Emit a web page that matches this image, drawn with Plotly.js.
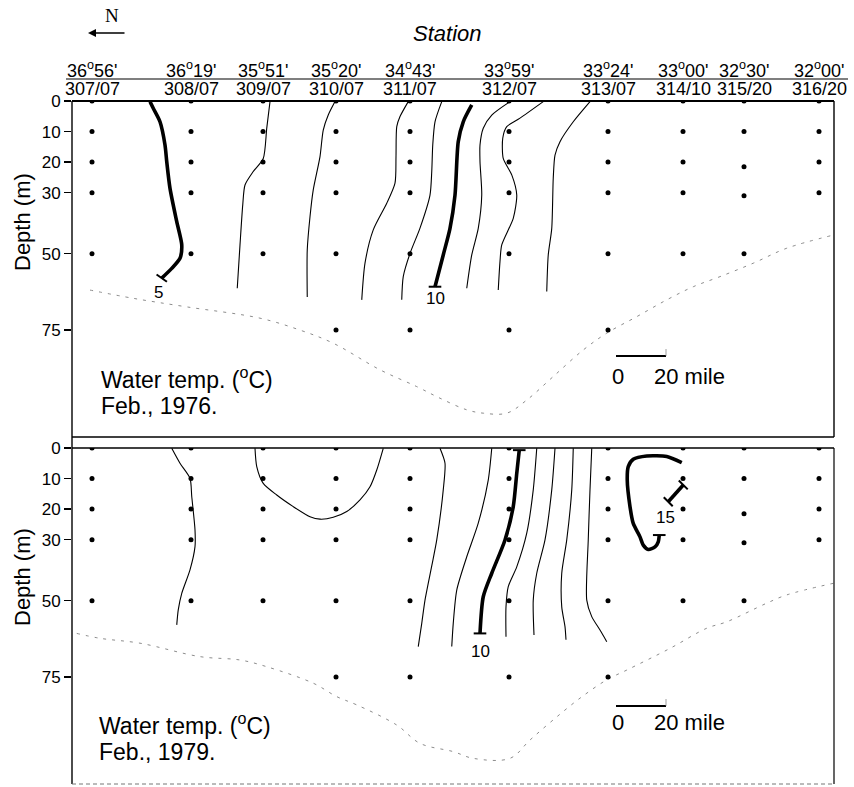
<!DOCTYPE html>
<html><head><meta charset="utf-8">
<script src="https://cdn.plot.ly/plotly-3.0.1.min.js"></script>
<style>html,body{margin:0;padding:0;background:#fff}#chart{width:854px;height:787px}</style>
</head><body><div id="chart"></div>
<script>
// ---------------- DATA ----------------
const stations = ['307/07','308/07','309/07','310/07','311/07','312/07','313/07','314/10','315/20','316/20'];
const latDeg = ['36','36','35','35','34','33','33','33','32','32'];
const latMin = ['56','19','51','20','43','59','24','00','30','00'];
// distance along section (mile) from the left edge
const stationDist = [8.0, 47.6, 76.4, 105.6, 135.2, 174.8, 214.4, 244.4, 268.8, 298.8];
const depthTicks = [0, 10, 20, 30, 50, 75];

// sampling depths (m) per station
const samples1976 = [[0,10,20,30,50],[0,10,20,30,50],[0,10,20,30,50],[0,10,20,30,50,75],[0,10,20,30,50,75],
                     [0,10,20,30,50,75],[0,10,20,30,50,75],[0,10,20,30,50],[0,10,21.5,31,50],[0,10,20,30]];
const samples1979 = [[0,10,20,30,50],[0,10,20,30,50],[0,10,20,30,50],[0,10,20,30,50,75],[0,10,20,30,50,75],
                     [0,10,20,30,50,75],[0,10,20,30,50,75],[0,10,20,30,50],[0,10,21.5,31,50],[0,10,20,30]];

// isotherms Feb 1976: [distance (mile), depth (m)]
const iso1976_5  = [[31.2,0.2],[32.5,2.4],[35.2,6.8],[37.2,14.4],[37.9,19.9],[39.2,28.6],[41.9,39.5],[43.9,47.1],[43.2,51.5],[39.9,54.8],[35.9,58.0]];
const iso1976_6  = [[79.2,0.2],[77.9,8.9],[76.5,18.8],[72.5,23.1],[69.2,27.5],[68.3,34.0],[67.2,47.1],[66.1,61.3]];
const iso1976_7  = [[105.2,0.2],[102.5,4.6],[100.5,9.5],[99.2,18.2],[96.5,29.1],[95.2,37.9],[94.1,48.8],[94.1,64.2]];
const iso1976_8  = [[134.5,0.2],[131.2,5.1],[129.9,8.4],[129.6,18.2],[129.2,26.9],[125.9,33.5],[120.5,42.2],[117.2,53.1],[115.9,65.1]];
const iso1976_9  = [[147.9,0.2],[145.2,6.8],[144.3,14.4],[143.9,23.1],[143.2,30.8],[139.2,41.6],[135.2,49.9],[132.5,57.5],[131.9,65.1]];
const iso1976_10 = [[159.9,1.3],[156.5,6.8],[154.5,13.3],[153.2,30.8],[151.2,41.7],[148.5,50.4],[145.2,60.8]];
const iso1976_11 = [[175.2,0.2],[167.9,4.6],[164.5,8.9],[163.2,14.4],[163.2,19.9],[163.9,30.8],[162.5,41.7],[159.9,50.4],[157.9,61.3]];
const iso1976_12 = [[188.5,0.2],[179.2,5.6],[173.9,8.4],[172.3,12.2],[172.5,18.8],[175.9,24.2],[177.9,30.8],[176.5,38.4],[171.9,47.1],[171.2,52.5],[170.5,61.9]];
const iso1976_13 = [[207.2,0.2],[200.5,6.8],[195.2,13.3],[193.2,17.7],[192.5,25.3],[191.9,41.7],[190.5,50.4],[189.9,62.4]];

// isotherms Feb 1979
const iso1979_a  = [[39.9,0.1],[43.2,5.0],[47.2,9.9],[47.9,15.9],[49.2,26.8],[49.2,32.3],[47.2,39.9],[43.9,47.6],[42.5,53.0],[41.9,57.9]];
const iso1979_b  = [[73.2,0.1],[73.9,6.1],[76.5,11.6],[81.9,15.4],[88.5,19.2],[95.2,22.5],[99.2,23.3],[104.5,22.7],[109.9,20.8],[115.2,17.0],[119.2,12.7],[121.9,7.2],[124.5,0.1]];
const iso1979_8  = [[147.2,0.1],[149.2,5.0],[148.5,13.7],[145.9,30.1],[143.9,38.6],[141.2,49.8],[139.9,57.4],[138.5,65.0]];
const iso1979_9  = [[167.9,0.1],[166.5,10.5],[162.5,24.6],[157.9,35.6],[153.9,46.5],[152.5,57.4],[151.9,65.0]];
const iso1979_10 = [[178.9,0.7],[177.9,8.3],[176.5,19.2],[173.2,30.1],[167.9,41.0],[164.5,48.7],[163.2,60.7]];
const iso1979_11 = [[185.9,0.1],[184.5,13.7],[181.9,27.9],[177.9,38.9],[174.5,45.4],[173.6,52.0],[173.6,61.8]];
const iso1979_12 = [[193.2,0.1],[191.9,13.7],[189.2,30.1],[185.9,41.0],[184.5,49.8],[184.8,61.2]];
const iso1979_13 = [[200.5,0.1],[199.9,13.7],[197.9,30.1],[195.9,41.0],[195.9,52.0],[197.2,58.5],[197.6,62.8]];
const iso1979_14 = [[207.9,0.1],[207.2,13.7],[206.5,30.1],[205.9,49.8],[207.9,55.2],[211.2,59.6],[213.9,63.4]];
const iso1979_15 = [[243.9,4.8],[237.9,2.8],[229.9,2.6],[224.5,3.7],[222.5,6.1],[222.1,10.5],[223.2,19.2],[224.5,24.7],[227.2,29.1],[228.5,31.8],[230.5,33.2],[233.2,32.4],[234.5,30.7],[234.9,28.5]];
const iso1979_15b = [[244.5,12.1],[238.5,17.6]];

// sea bottom profile
const bottom1976 = [[7.2,61.9],[24.5,64.6],[45.9,67.4],[75.2,71.1],[91.2,75.0],[104.5,79.3],[123.2,88.0],[137.9,93.5],[147.2,97.3],[157.9,101.1],[164.5,102.2],[173.9,102.2],[181.9,97.9],[192.5,90.2],[204.5,81.5],[213.9,76.0],[225.9,70.6],[237.9,65.1],[248.5,60.8],[259.2,57.5],[272.5,53.1],[285.9,48.2],[304.5,43.9]];
const bottom1979 = [[1.9,60.7],[11.2,62.3],[27.2,63.9],[51.2,68.3],[67.2,69.4],[77.9,71.6],[96.5,77.0],[105.9,81.4],[113.9,84.1],[129.9,90.7],[139.2,96.7],[152.5,99.4],[160.5,101.6],[175.2,101.6],[183.2,95.6],[192.5,89.0],[203.2,81.9],[213.9,75.9],[221.9,72.7],[239.2,65.6],[253.9,59.0],[261.9,56.9],[277.9,50.8],[285.9,48.1],[304.5,44.3]];

// isotherm labels [distance, depth]
const labels1976 = ['5','10'];
const labelPos1976 = [[34.5,62.6],[145.2,64.8]];
const labels1979 = ['10','15'];
const labelPos1979 = [[163.2,66.7],[237.2,22.7]];

// ---------------- DRAWING ----------------
const FONT = 'Liberation Sans, Arial, sans-serif';
const L = 72, R = 834, T = 101, B = 784;
const px = x => (x - L) / (R - L);
const py = y => (B - y) / (B - T);

const traces = [];
function iso(arr, xa, ya, thick) {
  traces.push({x: arr.map(p => p[0]), y: arr.map(p => p[1]), xaxis: xa, yaxis: ya, mode: 'lines',
    line: {color: '#000', width: thick ? 3.6 : 1.1, shape: 'spline', smoothing: 0.7}, hoverinfo: 'skip'});
}
function endBars(pts, angles, xa, ya) {
  traces.push({x: pts.map(p => p[0]), y: pts.map(p => p[1]), xaxis: xa, yaxis: ya, mode: 'markers',
    marker: {symbol: 'line-ew', size: 9, angle: angles, line: {color: '#000', width: 2}}, hoverinfo: 'skip'});
}
function dots(samples, xa, ya) {
  const xs = [], ys = [];
  samples.forEach((ds, i) => ds.forEach(d => { xs.push(stationDist[i]); ys.push(d); }));
  traces.push({x: xs, y: ys, xaxis: xa, yaxis: ya, mode: 'markers', marker: {color: '#000', size: 5}, hoverinfo: 'skip'});
}
function seabed(arr, xa, ya) {
  traces.push({x: arr.map(p => p[0]), y: arr.map(p => p[1]), xaxis: xa, yaxis: ya, mode: 'lines',
    line: {color: '#8c8c8c', width: 1, dash: '3px,6px', shape: 'spline'}, hoverinfo: 'skip'});
}

// 1976
seabed(bottom1976, 'x', 'y');
[iso1976_6, iso1976_7, iso1976_8, iso1976_9, iso1976_11, iso1976_12, iso1976_13].forEach(a => iso(a, 'x', 'y', false));
[iso1976_5, iso1976_10].forEach(a => iso(a, 'x', 'y', true));
endBars([iso1976_5[iso1976_5.length-1], iso1976_10[iso1976_10.length-1]], [35, 0], 'x', 'y');
dots(samples1976, 'x', 'y');
// 1979
seabed(bottom1979, 'x2', 'y2');
[iso1979_a, iso1979_b, iso1979_8, iso1979_9, iso1979_11, iso1979_12, iso1979_13, iso1979_14].forEach(a => iso(a, 'x2', 'y2', false));
[iso1979_10, iso1979_15, iso1979_15b].forEach(a => iso(a, 'x2', 'y2', true));
endBars([iso1979_10[0], iso1979_10[iso1979_10.length-1], iso1979_15[iso1979_15.length-1], iso1979_15b[0], iso1979_15b[1]],
        [0, 0, 0, 45, 45], 'x2', 'y2');
dots(samples1979, 'x2', 'y2');

const ann = [];
function txt(text, x, y, size, opts) {
  ann.push(Object.assign({text: text, x: px(x), y: py(y), xref: 'paper', yref: 'paper', showarrow: false,
    font: {family: FONT, size: size, color: '#000'}, xanchor: 'center', yanchor: 'middle'}, opts || {}));
}
// header
txt('N', 112, 15, 19, {font: {family: 'Liberation Serif, Times New Roman, serif', size: 19, color: '#000'}});
ann.push({text: '', x: px(88), y: py(33), xref: 'paper', yref: 'paper', showarrow: true, ax: 38, ay: 0,
  arrowhead: 2, arrowsize: 1, arrowwidth: 1.6, arrowcolor: '#000'});
txt('<i>Station</i>', 447, 33, 22);
stations.forEach((s, i) => {
  ann.push({text: latDeg[i] + '<sup>o</sup>' + latMin[i] + "'", x: stationDist[i], xref: 'x', y: py(69), yref: 'paper',
    showarrow: false, font: {family: FONT, size: 18, color: '#000'}, xanchor: 'center', yanchor: 'middle'});
  ann.push({text: s, x: stationDist[i], xref: 'x', y: py(89), yref: 'paper',
    showarrow: false, font: {family: FONT, size: 18, color: '#000'}, xanchor: 'center', yanchor: 'middle'});
});
// panel texts
txt('Water temp. (<sup>o</sup>C)', 99, 378, 23, {xanchor: 'left'});
txt('Feb., 1976.', 99, 406, 23, {xanchor: 'left'});
txt('Water temp. (<sup>o</sup>C)', 97, 724, 23, {xanchor: 'left'});
txt('Feb., 1979.', 97, 752, 23, {xanchor: 'left'});
txt('0', 618, 376, 22); txt('20 mile', 652, 376, 22, {xanchor: 'left'});
txt('0', 618, 722, 22); txt('20 mile', 652, 722, 22, {xanchor: 'left'});
txt('Depth (m)', 22, 222, 22, {textangle: -90});
txt('Depth (m)', 22, 577, 22, {textangle: -90});
// isotherm labels
labels1976.forEach((t, i) => ann.push({text: t, x: labelPos1976[i][0], y: labelPos1976[i][1], xref: 'x', yref: 'y', showarrow: false,
  font: {family: FONT, size: 17, color: '#000'}}));
labels1979.forEach((t, i) => ann.push({text: t, x: labelPos1979[i][0], y: labelPos1979[i][1], xref: 'x2', yref: 'y2', showarrow: false,
  font: {family: FONT, size: 17, color: '#000'}}));

const shapes = [];
function ln(x0, y0, x1, y1, w, color, dash) {
  shapes.push({type: 'line', xref: 'paper', yref: 'paper', x0: px(x0), y0: py(y0), x1: px(x1), y1: py(y1),
    line: {color: color || '#000', width: w, dash: dash || 'solid'}});
}
ln(66, 79, 848, 79, 1.2);
// top frame
ln(72, 101, 834, 101, 2);
ln(72, 101, 72, 784, 1.4);
ln(834, 101, 834, 437, 1.4);
ln(72, 437, 834, 437, 1.4);
// bottom frame
ln(72, 448, 834, 448, 1.4);
ln(834, 448, 834, 784, 1.2);
ln(72, 784, 834, 784, 1, '#777', '4px,3px');
// scale bars
ln(616, 356, 666, 356, 1.8); ln(666, 349, 666, 356, 0.8, '#888');
ln(616, 706, 666, 706, 1.8); ln(666, 699, 666, 706, 0.8, '#888');

const xax = {range: [0, 304.8], showticklabels: false, showgrid: false, zeroline: false, ticks: '', showline: false, fixedrange: true};
const yax = {range: [110, 0], tickvals: depthTicks, ticks: 'outside', ticklen: 7, tickwidth: 1.4, tickcolor: '#000',
  showgrid: false, zeroline: false, showline: false, tickfont: {family: FONT, size: 17, color: '#000'}, fixedrange: true};

const layout = {
  width: 854, height: 787, showlegend: false,
  margin: {l: L, r: 854 - R, t: T, b: 787 - B, pad: 0},
  paper_bgcolor: '#fff', plot_bgcolor: 'rgba(0,0,0,0)',
  font: {family: FONT, color: '#000'},
  xaxis: Object.assign({}, xax, {domain: [0, 1], anchor: 'y'}),
  yaxis: Object.assign({}, yax, {domain: [py(437), 1], anchor: 'x'}),
  xaxis2: Object.assign({}, xax, {domain: [0, 1], anchor: 'y2'}),
  yaxis2: Object.assign({}, yax, {domain: [0, py(448)], anchor: 'x2'}),
  annotations: ann, shapes: shapes
};
Plotly.newPlot('chart', traces, layout, {displayModeBar: false, staticPlot: true});
</script></body></html>
